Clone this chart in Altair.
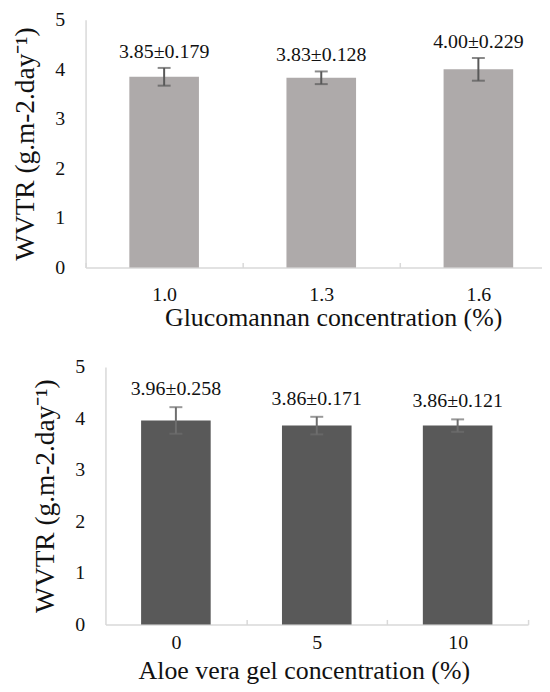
import altair as alt
import pandas as pd

# ---- data ----
gluc_conc = ["1.0", "1.3", "1.6"]
gluc_wvtr = [3.85, 3.83, 4.00]
gluc_sd = [0.179, 0.128, 0.229]

aloe_conc = ["0", "5", "10"]
aloe_wvtr = [3.96, 3.86, 3.86]
aloe_sd = [0.258, 0.171, 0.121]

y_ticks = [0, 1, 2, 3, 4, 5]
y_title = "WVTR (g.m-2.day\u207b\u00b9)"
gluc_title = "Glucomannan concentration (%)"
aloe_title = "Aloe vera gel concentration (%)"

FONT = "Liberation Serif"
AXIS_GREY = "#d9d9d9"
TEXT = "#111111"


def frame(conc, wvtr, sd):
    df = pd.DataFrame({"conc": conc, "wvtr": wvtr, "sd": sd})
    df["lo"] = df["wvtr"] - df["sd"]
    df["hi"] = df["wvtr"] + df["sd"]
    df["label"] = [f"{v:.2f}\u00b1{s:.3f}" for v, s in zip(wvtr, sd)]
    return df


def panel(df, xtitle, width, height, bar_color, err_color, xscale,
          band_pos, tick_offset, label_pad, title_pad, title_x, y_offset,
          text_dy):
    order = list(df["conc"])
    x = alt.X(
        "conc:N", sort=order, scale=xscale,
        axis=alt.Axis(
            title=xtitle, labelAngle=0,
            domainColor=AXIS_GREY, domainWidth=1.5,
            tickColor=AXIS_GREY, tickWidth=1.5,
            tickSize=alt.ExprRef(expr="-5"),
            bandPosition=band_pos, tickOffset=tick_offset,
            labelOffset=-tick_offset, tickExtra=False,
            labelFont=FONT, labelFontSize=20, labelColor=TEXT,
            labelPadding=label_pad,
            titleFont=FONT, titleFontSize=26, titleFontWeight="normal",
            titleColor=TEXT, titlePadding=title_pad, titleX=title_x,
        ),
    )
    yscale = alt.Scale(domain=[0, 5], nice=False, zero=True)
    yaxis = alt.Axis(
        title=y_title, values=y_ticks, ticks=False, tickSize=0, grid=False,
        offset=y_offset,
        domainColor=AXIS_GREY, domainWidth=1.5,
        labelFont=FONT, labelFontSize=20, labelColor=TEXT, labelPadding=21,
        titleFont=FONT, titleFontSize=27.5, titleFontWeight="normal",
        titleColor=TEXT, titlePadding=15,
    )
    base = alt.Chart(df)
    bars = base.mark_bar(color=bar_color).encode(
        x=x, y=alt.Y("wvtr:Q", scale=yscale, axis=yaxis)
    )
    rule = base.mark_rule(color=err_color, strokeWidth=2).encode(
        x=alt.X("conc:N", sort=order), y="lo:Q", y2="hi:Q"
    )
    cap_lo = base.mark_tick(color=err_color, size=13, thickness=2).encode(
        x=alt.X("conc:N", sort=order), y="lo:Q"
    )
    cap_hi = base.mark_tick(color=err_color, size=13, thickness=2).encode(
        x=alt.X("conc:N", sort=order), y="hi:Q"
    )
    labels = base.mark_text(
        font=FONT, fontSize=20, color=TEXT, baseline="alphabetic", dy=text_dy
    ).encode(x=alt.X("conc:N", sort=order), y="hi:Q", text="label:N")
    return alt.layer(bars, rule, cap_lo, cap_hi, labels).properties(
        width=width, height=height
    )


# top panel sets the shared plot origin; the bottom panel's axis and
# bands sit 20px further right inside its own plot area
top = panel(
    frame(gluc_conc, gluc_wvtr, gluc_sd), gluc_title,
    459, 249, "#aeaaaa", "#595959",
    alt.Scale(paddingInner=0.557, paddingOuter=0.231, align=0.603),
    0, -44, 22.5, 0, 249, 0, -10,
)
bottom = panel(
    frame(aloe_conc, aloe_wvtr, aloe_sd), aloe_title,
    445, 259, "#595959", "#6e6e6e",
    alt.Scale(range=[20, 445], paddingInner=0.506, paddingOuter=0.253),
    1, 35.8, 13, 5, 219.5, -20, -12,
)

chart = (
    alt.vconcat(top, bottom, spacing=26)
    .properties(padding={"left": 3, "top": 0, "right": 0, "bottom": 0})
    .configure_view(stroke=None)
)

chart.save("out.html", embed_options={"renderer": "svg", "actions": False})
